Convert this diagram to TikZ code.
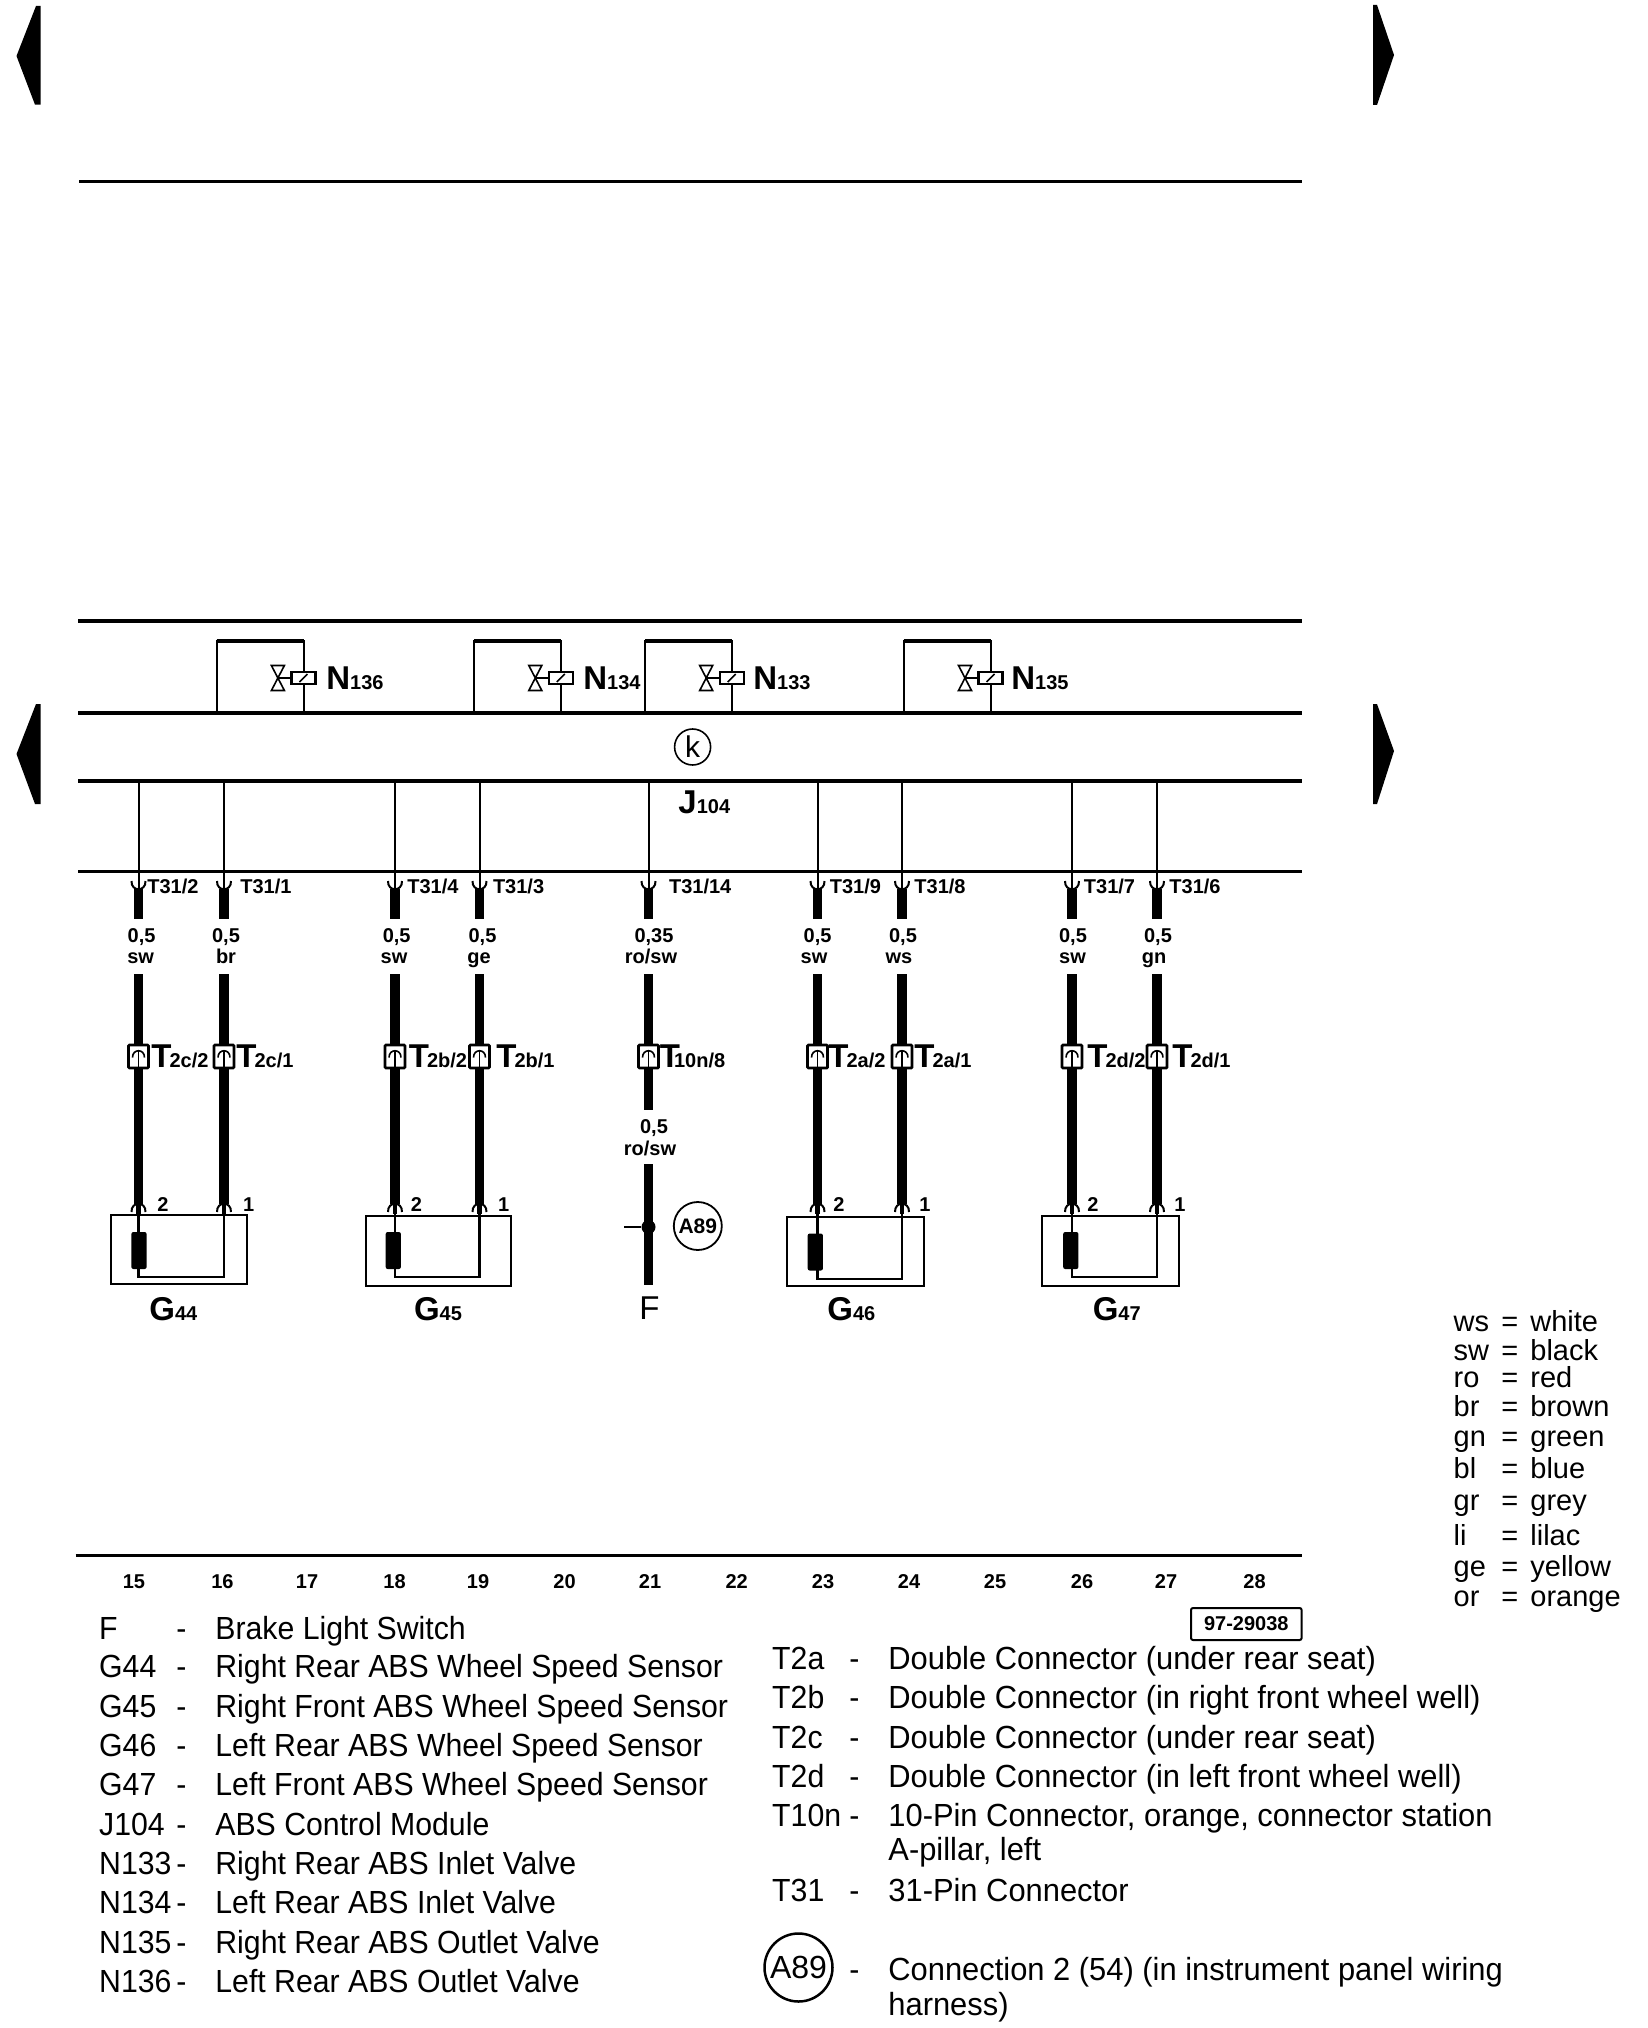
\documentclass[tikz,border=0pt]{standalone}
\usepackage{fontspec}
\setmainfont{Liberation Sans}
\newfontfamily\legendfont[FakeStretch=0.945]{Liberation Sans}
\newfontfamily\rightfont[FakeStretch=0.965]{Liberation Sans}
\newcommand{\compname}[2]{{\fontsize{16.5}{16.5}\selectfont\bfseries #1}{\fontsize{10}{10}\selectfont\bfseries #2}}

\tikzset{
	busline/.style={line width=1.7pt},
	thinwire/.style={line width=1pt},
	fatwire/.style={line width=4.6pt},
	sensewire/.style={line width=1.25pt},
	pinlabel/.style={anchor=base west, inner sep=0pt, font=\fontsize{10}{10}\selectfont\bfseries},
	gauge/.style={anchor=base, inner sep=0pt, font=\fontsize{10}{10}\selectfont\bfseries},
	partlabel/.style={anchor=base west, inner sep=0pt},
	legend/.style={anchor=base west, inner sep=0pt, font=\fontsize{16}{16}\selectfont\legendfont},
	rightlegend/.style={anchor=base west, inner sep=0pt, font=\fontsize{16}{16}\selectfont\rightfont},
	colourkey/.style={anchor=base west, inner sep=0pt, font=\fontsize{14.5}{14.5}\selectfont},
	sensorbox/.style={draw, line width=1pt, inner sep=0pt},
	coil/.style={fill, rounded corners=1pt, inner sep=0pt, minimum width=7.6pt, minimum height=18.5pt},
	cupdown/.pic={\draw[line width=1pt] (-7,-8) .. controls (-7.5,3) and (7.5,3) .. (7,-8);},
	cupup/.pic={
		\draw[line width=1pt] (-7,8) .. controls (-7.5,-3) and (7.5,-3) .. (7,8);
		\draw[line width=2.2pt] (0,0) -- (0,10);
	},
	plug/.pic={
		\draw[line width=1.4pt, fill=white, rounded corners=0.5pt] (-10,-11.5) rectangle (10,11.5);
		\draw[line width=0.9pt] (0,10) -- (0,-6);
		\draw[line width=0.8pt] (-6,1) .. controls (-6,-8) and (6,-8) .. (6,1);
	},
	valve/.pic={
		\draw[line width=0.8pt] (-32,-12.5) -- (-19,-12.5) -- (-32,12.5) -- (-19,12.5) -- cycle;
		\draw[line width=0.8pt] (-26,0) -- (-12,0);
		\draw[line width=1.2pt, fill=white] (-12,-6) rectangle (12,6);
		\draw[line width=0.8pt] (-4,4) -- (4,-4);
	},
}

\begin{document}
\begin{tikzpicture}[x=0.5pt, y=-0.5pt]
	\useasboundingbox (0,0) rectangle (1648,2028);

	\fill (16.5,56) -- (36,6) -- (40.7,6) -- (40.7,104.7) -- (35,104.7) -- cycle;
	\fill (1394,55) -- (1377,5) -- (1373,5) -- (1373,105) -- (1377,105) -- cycle;
	\fill (16.5,754) -- (36,704) -- (40.7,704) -- (40.7,804) -- (35,804) -- cycle;
	\fill (1394,751) -- (1377,704) -- (1373,704) -- (1373,804) -- (1377,804) -- cycle;

	\coordinate (topl) at (79,181.5);
	\coordinate (topr) at (1301.6,181.5);
	\coordinate (bus1l) at (78,621);
	\coordinate (bus1r) at (1301.6,621);
	\coordinate (bus2l) at (78,713);
	\coordinate (bus2r) at (1301.6,713);
	\coordinate (bus3l) at (78,781);
	\coordinate (bus3r) at (1301.6,781);
	\coordinate (bus4l) at (78,871.5);
	\coordinate (bus4r) at (1301.6,871.5);
	\coordinate (bus5l) at (75.5,1555.5);
	\coordinate (bus5r) at (1301.6,1555.5);
	\draw[busline] (topl) -- (topr);
	\draw[busline] (bus1l) -- (bus1r);
	\draw[busline] (bus2l) -- (bus2r);
	\draw[busline] (bus3l) -- (bus3r);
	\draw[busline] (bus4l) -- (bus4r);
	\draw[busline] (bus5l) -- (bus5r);

	\coordinate (n136a) at (216.6,713);
	\coordinate (n136b) at (304,713);
	\coordinate (n136c) at (304,641);
	\coordinate (n134a) at (473.8,713);
	\coordinate (n134b) at (560.8,713);
	\coordinate (n134c) at (560.8,641);
	\coordinate (n133a) at (645,713);
	\coordinate (n133b) at (731.7,713);
	\coordinate (n133c) at (731.7,641);
	\coordinate (n135a) at (903.5,713);
	\coordinate (n135b) at (990.5,713);
	\coordinate (n135c) at (990.5,641);
	\draw[thinwire] (n136a) |- (n136c) -- (n136b);
	\draw[thinwire] (n134a) |- (n134c) -- (n134b);
	\draw[thinwire] (n133a) |- (n133c) -- (n133b);
	\draw[thinwire] (n135a) |- (n135c) -- (n135b);
	\draw[busline] (n136a |- n136c) -- (n136c);
	\draw[busline] (n134a |- n134c) -- (n134c);
	\draw[busline] (n133a |- n133c) -- (n133c);
	\draw[busline] (n135a |- n135c) -- (n135c);
	\pic at (303.4,678) {valve};
	\pic at (560.8,678) {valve};
	\pic at (731.7,678) {valve};
	\pic at (990.5,678) {valve};
	\node[partlabel] (ln136) at (326,689) {\compname{N}{136}};
	\node[partlabel] (ln134) at (583,689) {\compname{N}{134}};
	\node[partlabel] (ln133) at (753,689) {\compname{N}{133}};
	\node[partlabel] (ln135) at (1011,689) {\compname{N}{135}};

	\node[draw, circle, line width=0.8pt, minimum size=18pt, inner sep=0pt, font=\fontsize{15}{15}\selectfont] (k) at (692.6,747) {k};
	\node[partlabel] (lj104) at (678,813) {\compname{J}{104}};

	\coordinate (j1) at (138.5,781);
	\coordinate (j2) at (224,781);
	\coordinate (j3) at (395,781);
	\coordinate (j4) at (479.5,781);
	\coordinate (j5) at (648.5,781);
	\coordinate (j6) at (817.5,781);
	\coordinate (j7) at (902,781);
	\coordinate (j8) at (1072,781);
	\coordinate (j9) at (1157,781);
	\coordinate (s1) at (138.5,889);
	\coordinate (s2) at (224,889);
	\coordinate (s3) at (395,889);
	\coordinate (s4) at (479.5,889);
	\coordinate (s5) at (648.5,889);
	\coordinate (s6) at (817.5,889);
	\coordinate (s7) at (902,889);
	\coordinate (s8) at (1072,889);
	\coordinate (s9) at (1157,889);
	\coordinate (e1) at (138.5,918.5);
	\coordinate (e2) at (224,918.5);
	\coordinate (e3) at (395,918.5);
	\coordinate (e4) at (479.5,918.5);
	\coordinate (e5) at (648.5,918.5);
	\coordinate (e6) at (817.5,918.5);
	\coordinate (e7) at (902,918.5);
	\coordinate (e8) at (1072,918.5);
	\coordinate (e9) at (1157,918.5);
	\coordinate (r1) at (138.5,974);
	\coordinate (r2) at (224,974);
	\coordinate (r3) at (395,974);
	\coordinate (r4) at (479.5,974);
	\coordinate (r5) at (648.5,974);
	\coordinate (r6) at (817.5,974);
	\coordinate (r7) at (902,974);
	\coordinate (r8) at (1072,974);
	\coordinate (r9) at (1157,974);
	\coordinate (p1) at (138.5,1204);
	\coordinate (p2) at (224,1204);
	\coordinate (p3) at (395,1204);
	\coordinate (p4) at (479.5,1204);
	\coordinate (p6) at (817.5,1204);
	\coordinate (p7) at (902,1204);
	\coordinate (p8) at (1072,1204);
	\coordinate (p9) at (1157,1204);
	\coordinate (x5) at (648.5,1110);
	\coordinate (y5) at (648.5,1164);
	\coordinate (z5) at (648.5,1285);

	\draw[thinwire] (j1) -- (s1);
	\draw[thinwire] (j2) -- (s2);
	\draw[thinwire] (j3) -- (s3);
	\draw[thinwire] (j4) -- (s4);
	\draw[thinwire] (j5) -- (s5);
	\draw[thinwire] (j6) -- (s6);
	\draw[thinwire] (j7) -- (s7);
	\draw[thinwire] (j8) -- (s8);
	\draw[thinwire] (j9) -- (s9);
	\draw[fatwire] (s1) -- (e1);
	\draw[fatwire] (s2) -- (e2);
	\draw[fatwire] (s3) -- (e3);
	\draw[fatwire] (s4) -- (e4);
	\draw[fatwire] (s5) -- (e5);
	\draw[fatwire] (s6) -- (e6);
	\draw[fatwire] (s7) -- (e7);
	\draw[fatwire] (s8) -- (e8);
	\draw[fatwire] (s9) -- (e9);
	\draw[fatwire] (r1) -- (p1);
	\draw[fatwire] (r2) -- (p2);
	\draw[fatwire] (r3) -- (p3);
	\draw[fatwire] (r4) -- (p4);
	\draw[fatwire] (r5) -- (x5);
	\draw[fatwire] (y5) -- (z5);
	\draw[fatwire] (r6) -- (p6);
	\draw[fatwire] (r7) -- (p7);
	\draw[fatwire] (r8) -- (p8);
	\draw[fatwire] (r9) -- (p9);

	\pic at (s1) {cupdown};
	\pic at (s2) {cupdown};
	\pic at (s3) {cupdown};
	\pic at (s4) {cupdown};
	\pic at (s5) {cupdown};
	\pic at (s6) {cupdown};
	\pic at (s7) {cupdown};
	\pic at (s8) {cupdown};
	\pic at (s9) {cupdown};
	\pic at (138.5,1056.5) {plug};
	\pic at (224,1056.5) {plug};
	\pic at (395,1056.5) {plug};
	\pic at (479.5,1056.5) {plug};
	\pic at (648.5,1056.5) {plug};
	\pic at (817.5,1056.5) {plug};
	\pic at (902,1056.5) {plug};
	\pic at (1072,1056.5) {plug};
	\pic at (1157,1056.5) {plug};
	\pic at (p1) {cupup};
	\pic at (p2) {cupup};
	\pic at (p3) {cupup};
	\pic at (p4) {cupup};
	\pic at (p6) {cupup};
	\pic at (p7) {cupup};
	\pic at (p8) {cupup};
	\pic at (p9) {cupup};

	\node[pinlabel] (t1) at (147,893) {T31/2};
	\node[pinlabel] (t2) at (240,893) {T31/1};
	\node[pinlabel] (t3) at (407,893) {T31/4};
	\node[pinlabel] (t4) at (492.6,893) {T31/3};
	\node[pinlabel] (t5) at (668.7,893) {T31/14};
	\node[pinlabel] (t6) at (829.4,893) {T31/9};
	\node[pinlabel] (t7) at (914,893) {T31/8};
	\node[pinlabel] (t8) at (1083.5,893) {T31/7};
	\node[pinlabel] (t9) at (1169,893) {T31/6};

	\node[gauge] (g1) at (141.6,942) {0,5};
	\node[gauge] (g2) at (226,942) {0,5};
	\node[gauge] (g3) at (396.7,942) {0,5};
	\node[gauge] (g4) at (482.5,942) {0,5};
	\node[gauge] (g5) at (654,942) {0,35};
	\node[gauge] (g6) at (817.6,942) {0,5};
	\node[gauge] (g7) at (903,942) {0,5};
	\node[gauge] (g8) at (1073,942) {0,5};
	\node[gauge] (g9) at (1158,942) {0,5};
	\node[gauge] (c1) at (140.6,963) {sw};
	\node[gauge] (c2) at (226,963) {br};
	\node[gauge] (c3) at (394,963) {sw};
	\node[gauge] (c4) at (479,963) {ge};
	\node[gauge] (c5) at (651,963) {ro/sw};
	\node[gauge] (c6) at (814,963) {sw};
	\node[gauge] (c7) at (899,963) {ws};
	\node[gauge] (c8) at (1072.5,963) {sw};
	\node[gauge] (c9) at (1154,963) {gn};
	\node[gauge] (g5b) at (654,1133) {0,5};
	\node[gauge] (c5b) at (650,1155) {ro/sw};

	\node[partlabel] (q1) at (151,1067) {\compname{T}{\kern-1pt 2c/2}};
	\node[partlabel] (q2) at (236,1067) {\compname{T}{\kern-1pt 2c/1}};
	\node[partlabel] (q3) at (408.5,1067) {\compname{T}{\kern-1pt 2b/2}};
	\node[partlabel] (q4) at (496,1067) {\compname{T}{\kern-1pt 2b/1}};
	\node[partlabel] (q5) at (659.5,1067) {\compname{T}{\kern-3pt 10n/8}};
	\node[partlabel] (q6) at (828,1067) {\compname{T}{\kern-1pt 2a/2}};
	\node[partlabel] (q7) at (914,1067) {\compname{T}{\kern-1pt 2a/1}};
	\node[partlabel] (q8) at (1087,1067) {\compname{T}{\kern-1pt 2d/2}};
	\node[partlabel] (q9) at (1172,1067) {\compname{T}{\kern-1pt 2d/1}};

	\node[pinlabel] (pin1) at (157,1211) {2};
	\node[pinlabel] (pin2) at (242.6,1211) {1};
	\node[pinlabel] (pin3) at (410.5,1211) {2};
	\node[pinlabel] (pin4) at (497.8,1211) {1};
	\node[pinlabel] (pin6) at (833,1211) {2};
	\node[pinlabel] (pin7) at (919,1211) {1};
	\node[pinlabel] (pin8) at (1087,1211) {2};
	\node[pinlabel] (pin9) at (1174,1211) {1};

	\node[sensorbox, minimum width=67.85pt, minimum height=34.5pt] (g44) at (178.85,1249.5) {};
	\node[sensorbox, minimum width=72.5pt, minimum height=34.85pt] (g45) at (438.5,1250.85) {};
	\node[sensorbox, minimum width=68.5pt, minimum height=34.5pt] (g46) at (855.5,1251.5) {};
	\node[sensorbox, minimum width=68.5pt, minimum height=34.85pt] (g47) at (1110.5,1250.85) {};
	\coordinate (b44) at (224,1277);
	\coordinate (b45) at (479.5,1277);
	\coordinate (b46) at (902,1279);
	\coordinate (b47) at (1157,1277);
	\draw[sensewire] (p1) |- (b44) -- (p2);
	\draw[sensewire] (p3) |- (b45) -- (p4);
	\draw[sensewire] (p6) |- (b46) -- (p7);
	\draw[sensewire] (p8) |- (b47) -- (p9);
	\node[coil] (r44) at (139,1250.5) {};
	\node[coil] (r45) at (393.3,1250.5) {};
	\node[coil] (r46) at (815.3,1252) {};
	\node[coil] (r47) at (1070.8,1250.5) {};
	\node[partlabel] (lg44) at (149,1320) {\compname{G}{44}};
	\node[partlabel] (lg45) at (413.6,1320) {\compname{G}{45}};
	\node[partlabel] (lg46) at (827,1320) {\compname{G}{46}};
	\node[partlabel] (lg47) at (1092.4,1320) {\compname{G}{47}};

	\node[circle, fill, minimum size=7pt, inner sep=0pt] (fdot) at (648.5,1227) {};
	\coordinate (fstub) at (624,1227);
	\draw[line width=1.2pt] (fstub) -- (fdot);
	\node[draw, circle, line width=0.9pt, minimum size=24pt, inner sep=0pt, font=\fontsize{10.5}{10.5}\selectfont\bfseries] (a89) at (697.8,1226) {A89};
	\node[partlabel, font=\fontsize{16.5}{16.5}\selectfont] (lf) at (639,1319) {F};

	\node[gauge] (col15) at (134,1588) {15};
	\node[gauge] (col16) at (222.4,1588) {16};
	\node[gauge] (col17) at (307,1588) {17};
	\node[gauge] (col18) at (394.5,1588) {18};
	\node[gauge] (col19) at (478,1588) {19};
	\node[gauge] (col20) at (564.6,1588) {20};
	\node[gauge] (col21) at (650,1588) {21};
	\node[gauge] (col22) at (736.7,1588) {22};
	\node[gauge] (col23) at (823,1588) {23};
	\node[gauge] (col24) at (909,1588) {24};
	\node[gauge] (col25) at (995,1588) {25};
	\node[gauge] (col26) at (1082,1588) {26};
	\node[gauge] (col27) at (1166,1588) {27};
	\node[gauge] (col28) at (1254.6,1588) {28};
	\node[draw, line width=1pt, rounded corners=1pt, minimum width=55.3pt, minimum height=16pt, inner sep=0pt, font=\fontsize{10}{10}\selectfont\bfseries] (stamp) at (1246.3,1624) {97-29038};

	\node[legend] (k1) at (98.8,1639) {F};
	\node[legend] (k2) at (98.8,1677) {G44};
	\node[legend] (k3) at (98.8,1717) {G45};
	\node[legend] (k4) at (98.8,1756) {G46};
	\node[legend] (k5) at (98.8,1795) {G47};
	\node[legend] (k6) at (98.8,1835) {J104};
	\node[legend] (k7) at (98.8,1874) {N133};
	\node[legend] (k8) at (98.8,1913) {N134};
	\node[legend] (k9) at (98.8,1953) {N135};
	\node[legend] (k10) at (98.8,1992) {N136};
	\node[legend] (d1) at (176,1639) {-};
	\node[legend] (d2) at (176,1677) {-};
	\node[legend] (d3) at (176,1717) {-};
	\node[legend] (d4) at (176,1756) {-};
	\node[legend] (d5) at (176,1795) {-};
	\node[legend] (d6) at (176,1835) {-};
	\node[legend] (d7) at (176,1874) {-};
	\node[legend] (d8) at (176,1913) {-};
	\node[legend] (d9) at (176,1953) {-};
	\node[legend] (d10) at (176,1992) {-};
	\node[legend] (v1) at (215,1639) {Brake Light Switch};
	\node[legend] (v2) at (215,1677) {Right Rear ABS Wheel Speed Sensor};
	\node[legend] (v3) at (215,1717) {Right Front ABS Wheel Speed Sensor};
	\node[legend] (v4) at (215,1756) {Left Rear ABS Wheel Speed Sensor};
	\node[legend] (v5) at (215,1795) {Left Front ABS Wheel Speed Sensor};
	\node[legend] (v6) at (215,1835) {ABS Control Module};
	\node[legend] (v7) at (215,1874) {Right Rear ABS Inlet Valve};
	\node[legend] (v8) at (215,1913) {Left Rear ABS Inlet Valve};
	\node[legend] (v9) at (215,1953) {Right Rear ABS Outlet Valve};
	\node[legend] (v10) at (215,1992) {Left Rear ABS Outlet Valve};

	\node[legend] (k11) at (771.8,1669) {T2a};
	\node[legend] (k12) at (771.8,1708) {T2b};
	\node[legend] (k13) at (771.8,1748) {T2c};
	\node[legend] (k14) at (771.8,1787) {T2d};
	\node[legend] (k15) at (771.8,1826) {T10n};
	\node[legend] (k16) at (771.8,1901) {T31};
	\node[draw, circle, line width=1.25pt, minimum size=34pt, inner sep=0pt, font=\fontsize{16}{16}\selectfont] (k17) at (798.5,1967.5) {A89};
	\node[legend] (d11) at (849,1669) {-};
	\node[legend] (d12) at (849,1708) {-};
	\node[legend] (d13) at (849,1748) {-};
	\node[legend] (d14) at (849,1787) {-};
	\node[legend] (d15) at (849,1826) {-};
	\node[legend] (d16) at (849,1901) {-};
	\node[legend] (d17) at (849,1980) {-};
	\node[rightlegend] (v11) at (888,1669) {Double Connector (under rear seat)};
	\node[rightlegend] (v12) at (888,1708) {Double Connector (in right front wheel well)};
	\node[rightlegend] (v13) at (888,1748) {Double Connector (under rear seat)};
	\node[rightlegend] (v14) at (888,1787) {Double Connector (in left front wheel well)};
	\node[rightlegend] (v15) at (888,1826) {10-Pin Connector, orange, connector station};
	\node[rightlegend] (v15b) at (888,1860) {A-pillar, left};
	\node[rightlegend] (v16) at (888,1901) {31-Pin Connector};
	\node[rightlegend] (v17) at (888,1980) {Connection 2 (54) (in instrument panel wiring};
	\node[rightlegend] (v17b) at (888,2015) {harness)};

	\node[colourkey] (w1) at (1453.3,1331.7) {ws};
	\node[colourkey] (w2) at (1453.3,1360.7) {sw};
	\node[colourkey] (w3) at (1453.3,1387) {ro};
	\node[colourkey] (w4) at (1453.3,1416) {br};
	\node[colourkey] (w5) at (1453.3,1446.7) {gn};
	\node[colourkey] (w6) at (1453.3,1478) {bl};
	\node[colourkey] (w7) at (1453.3,1510) {gr};
	\node[colourkey] (w8) at (1453.3,1545) {li};
	\node[colourkey] (w9) at (1453.3,1576.7) {ge};
	\node[colourkey] (w10) at (1453.3,1606) {or};
	\node[colourkey] (e1k) at (1501,1331.7) {=};
	\node[colourkey] (e2k) at (1501,1360.7) {=};
	\node[colourkey] (e3k) at (1501,1387) {=};
	\node[colourkey] (e4k) at (1501,1416) {=};
	\node[colourkey] (e5k) at (1501,1446.7) {=};
	\node[colourkey] (e6k) at (1501,1478) {=};
	\node[colourkey] (e7k) at (1501,1510) {=};
	\node[colourkey] (e8k) at (1501,1545) {=};
	\node[colourkey] (e9k) at (1501,1576.7) {=};
	\node[colourkey] (e10k) at (1501,1606) {=};
	\node[colourkey] (n1) at (1530,1331.7) {white};
	\node[colourkey] (n2) at (1530,1360.7) {black};
	\node[colourkey] (n3) at (1530,1387) {red};
	\node[colourkey] (n4) at (1530,1416) {brown};
	\node[colourkey] (n5) at (1530,1446.7) {green};
	\node[colourkey] (n6) at (1530,1478) {blue};
	\node[colourkey] (n7) at (1530,1510) {grey};
	\node[colourkey] (n8) at (1530,1545) {lilac};
	\node[colourkey] (n9) at (1530,1576.7) {yellow};
	\node[colourkey] (n10) at (1530,1606) {orange};
\end{tikzpicture}
\end{document}
